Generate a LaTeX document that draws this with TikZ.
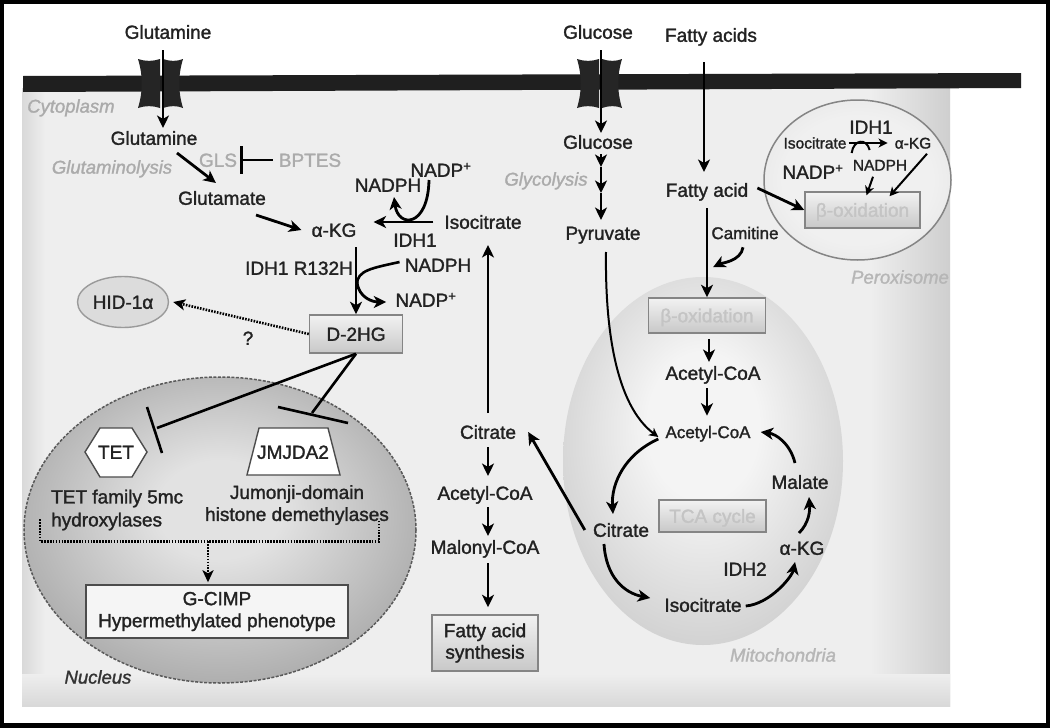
\documentclass[tikz,border=0pt]{standalone}
\usepackage{fontspec}
\setmainfont{Liberation Sans}[FakeBold=1.5]
\usetikzlibrary{arrows.meta,calc,shapes.geometric}
\definecolor{txtc}{HTML}{222222}
\definecolor{lblc}{HTML}{ABABAB}
\definecolor{lbltwo}{HTML}{B6B6B6}
\definecolor{betac}{HTML}{C4C4C4}
\definecolor{boxln}{HTML}{858585}
\definecolor{boxtop}{HTML}{F2F2F2}
\definecolor{boxbot}{HTML}{C8C8C8}
\definecolor{cellbg}{HTML}{EEEEEE}
\definecolor{chanc}{HTML}{252525}
\definecolor{hiffill}{HTML}{DCDCDC}
\definecolor{hifln}{HTML}{9A9A9A}
\definecolor{nucin}{HTML}{E2E2E2}
\definecolor{nucmid}{HTML}{A6A6A6}
\definecolor{nucout}{HTML}{6E6E6E}
\definecolor{mitin}{HTML}{F4F4F4}
\definecolor{mitmid}{HTML}{CACACA}
\definecolor{mitout}{HTML}{999999}
\definecolor{perin}{HTML}{F0F0F0}
\definecolor{perout}{HTML}{D4D4D4}
\pgfdeclareradialshading{nucsh}{\pgfpoint{0bp}{4bp}}{color(0bp)=(nucin); color(8bp)=(nucin); color(30bp)=(nucmid); color(50bp)=(nucout)}
\pgfdeclareradialshading{mitsh}{\pgfpoint{0bp}{6bp}}{color(0bp)=(mitin); color(10bp)=(mitin); color(32bp)=(mitmid); color(50bp)=(mitout)}
\pgfdeclareradialshading{persh}{\pgfpoint{0bp}{0bp}}{color(0bp)=(perin); color(20bp)=(perin); color(50bp)=(perout)}
\tikzset{
 tx/.style={font=\fontsize{19}{22}\selectfont, inner sep=0pt, text height=13.6pt, text depth=0pt, text=txtc},
 txs/.style={font=\fontsize{17}{20}\selectfont, inner sep=0pt, text height=12.2pt, text depth=0pt, text=txtc},
 txxs/.style={font=\fontsize{15.5}{18}\selectfont, inner sep=0pt, text height=11.1pt, text depth=0pt, text=txtc},
 mtx/.style={font=\fontsize{19}{22}\selectfont, inner sep=0pt, text=txtc},
 glab/.style={tx, text=lblc},
 ilab/.style={font=\fontsize{18.5}{22}\selectfont\itshape, inner sep=0pt, text height=13.2pt, text depth=0pt, text=lblc},
 arr/.style={line width=2.8pt, -{Stealth[length=12.5pt,width=12pt,inset=3.5pt]}},
 arrs/.style={line width=2pt, -{Stealth[length=9pt,width=9pt,inset=2.5pt]}},
 inh/.style={line width=2.6pt},
 gbox/.style={draw=boxln, line width=1.5pt, top color=boxtop, bottom color=boxbot, inner sep=0pt},
 dotarr/.style={line width=2.6pt, dash pattern=on 1.6pt off 1.3pt, -{Stealth[length=12pt,width=11pt,inset=3pt]}},
 dotln/.style={line width=2.6pt, dash pattern=on 1.6pt off 1.3pt},
 chan/.pic={
  \fill[chanc] (-24,-24.5) .. controls (-17,-22) and (-9,-22) .. (-2,-24.5) -- (-2,24.5) .. controls (-9,22) and (-17,22) .. (-24,24.5) .. controls (-19,8) and (-19,-8) .. cycle;
  \fill[chanc] (1,-24.5) .. controls (8,-22) and (15,-22) .. (21,-24.5) .. controls (16,-8) and (16,8) .. (21,24.5) .. controls (15,22) and (8,22) .. (1,24.5) -- cycle;
 }
}
\begin{document}
\begin{tikzpicture}[x=1pt,y=-1pt]
\useasboundingbox (0,0) rectangle (1050,728);
\fill[white] (0,0) rectangle (1050,728);
% cell background
\fill[cellbg] (22,88) rectangle (950,706);
\shade[left color=black!15, right color=cellbg] (22,88) rectangle (45,706);
\shade[left color=cellbg, right color=black!19] (870,88) rectangle (950,706);
\shade[top color=cellbg, bottom color=black!15] (22,674) rectangle (950,706);
% frame
\draw[line width=4pt] (2,2) rectangle (1048,725);
\fill (0,723) rectangle (1050,728);
% membrane
\fill[black!88] (23,76) -- (1021,73) -- (1021,88) -- (23,92) -- cycle;
\pic at (162,83.5) {chan};
\pic at (601,83.5) {chan};

% organelles
\path[shading=nucsh, draw=black!65, line width=1.5pt, dash pattern=on 3pt off 1.5pt] (220,530) ellipse [x radius=196, y radius=153];
\path[shading=mitsh] (703,461) ellipse [x radius=140, y radius=184];
\path[shading=persh, draw=boxln, line width=1.5pt] (857.5,180) ellipse [x radius=93.5, y radius=80];

% ---------- cytoplasm, glutamine branch
\node[tx] (glnout) at (168,32) {Glutamine};
\node[tx] (gln) at (154,138) {Glutamine};
\node[glab] (gls) at (218,160) {GLS};
\node[glab] (bptes) at (310,160) {BPTES};
\node[ilab] (glys) at (112,167) {Glutaminolysis};
\node[ilab, anchor=west] (cyto) at (27,106) {Cytoplasm};
\node[tx] (glu) at (222,198) {Glutamate};
\node[tx] (akg) at (334,230) {α-KG};
\node[tx] (nadpA) at (441,170) {NADP\textsuperscript{+}};
\node[tx] (nadphA) at (388,185) {NADPH};
\node[tx] (iso) at (483,222) {Isocitrate};
\node[tx] (idhA) at (415,240) {IDH1};
\node[tx] (rmut) at (299,268) {IDH1 R132H};
\node[tx] (nadphB) at (438,265) {NADPH};
\node[tx] (nadpB) at (426,300) {NADP\textsuperscript{+}};
\node[gbox, tx, minimum width=93pt, minimum height=38pt] (dhg) at (356,334) {D-2HG};
\node[tx, ellipse, draw=hifln, fill=hiffill, line width=1.4pt, minimum width=91pt, minimum height=51pt] (hif) at (123,302) {HID-1α};
\node[tx] (qm) at (248,338) {?};

\draw[arr] ($(glnout.south)+(-5,11)$) -- ($(gln.north)+(9,-3)$);
\draw[arr] ($(gln.south)+(23,8)$) -- ($(glu.north)+(-6,-8)$);
\coordinate (glsbar) at ($(gls.east)+(4,0)$);
\draw[inh] ($(bptes.west)+(-6,0)$) -- (glsbar);
\draw[inh] ($(glsbar)+(0,-14)$) -- ($(glsbar)+(0,14)$);
\draw[arr] ($(glu.south)+(34,10)$) -- ($(akg.west)+(-10,0)$);
\draw[arr] ($(iso.west)+(-11,0)$) -- ($(akg.east)+(17,-8)$);
\draw[arr] ($(nadpA.south)+(-12,3)$) .. controls ($(nadpA.south)+(-13,51)$) and ($(nadphA.south)+(10,36)$) .. ($(nadphA.south)+(6,5)$);
\draw[arr] ($(akg.south)+(22,10)$) -- (dhg.north);
\draw[line width=2.6pt] ($(nadphB.west)+(-5,-3)$) .. controls ($(nadphB.west)+(-32,3)$) and ($(dhg.north)+(1,-44)$) .. ($(dhg.north)+(1,-30)$);
\draw[arr] ($(dhg.north)+(1,-32)$) .. controls ($(dhg.north)+(3,-16)$) and ($(nadpB.west)+(-22,2)$) .. ($(nadpB.west)+(-9,2)$);
\draw[dotarr] (dhg.west) -- ($(hif.east)+(4,0)$);

% ---------- nucleus
\coordinate (tetc) at (116,452);
\coordinate (jmjc) at (293,452);
\draw[fill=white, draw=black!70, line width=1.4pt] ($(tetc)+(-31,0)$) -- ($(tetc)+(-16,-24)$) -- ($(tetc)+(16,-24)$) -- ($(tetc)+(31,0)$) -- ($(tetc)+(16,25)$) -- ($(tetc)+(-16,25)$) -- cycle;
\draw[fill=white, draw=black!70, line width=1.4pt] ($(jmjc)+(-46,23)$) -- ($(jmjc)+(47,23)$) -- ($(jmjc)+(35,-24)$) -- ($(jmjc)+(-34,-24)$) -- cycle;
\node[tx] (tet) at (tetc) {TET};
\node[tx] (jmj) at (jmjc) {JMJDA2};
\node[mtx, align=left, anchor=west, font=\fontsize{19}{23}\selectfont] (tetlbl) at (51,510) {TET family 5mc\\hydroxylases};
\node[mtx, align=center, font=\fontsize{19}{22}\selectfont] (jmjlbl) at (297,505) {Jumonji-domain\\histone demethylases};
\node[mtx, align=center, draw=black!70, fill=white!96!black, line width=1.4pt, minimum width=262pt, minimum height=53pt] (gcimp) at (217,611.5) {G-CIMP\\Hypermethylated phenotype};
\node[ilab, text=black!80] (nuclbl) at (98,677) {Nucleus};

\draw[inh] (dhg.south) -- ($(tet)+(41,-24)$);
\draw[inh] ($(tet)+(31,-45)$) -- ($(tet)+(46,1)$);
\draw[inh] (dhg.south) -- ($(jmj)+(19,-39)$);
\draw[inh] ($(jmj)+(-15,-45)$) -- ($(jmj)+(55,-29)$);
\coordinate (brk) at ($(gcimp.north)+(-9,-43)$);
\draw[dotln] ($(brk)+(-168,-22)$) -- ($(brk)+(-168,0)$) -- ($(brk)+(171,0)$) -- ($(brk)+(171,-20)$);
\draw[dotarr] (brk) -- ($(gcimp.north)+(-9,-2)$);

% ---------- fatty acid synthesis column
\node[tx] (cit) at (488,432) {Citrate};
\node[tx] (acc) at (485,493) {Acetyl-CoA};
\node[tx] (mal) at (485,547) {Malonyl-CoA};
\node[gbox, mtx, align=center, font=\fontsize{19}{21.5}\selectfont, minimum width=106pt, minimum height=56pt] (fas) at (485,643) {Fatty acid\\synthesis};
\draw[arr] ($(cit.north)+(0,-12)$) -- ($(iso.south)+(5,16)$);
\draw[arr] ($(cit.south)+(0,8)$) -- ($(acc.north)+(3,-10)$);
\draw[arr] ($(acc.south)+(3,7)$) -- ($(mal.north)+(3,-4)$);
\draw[arr] ($(mal.south)+(3,9)$) -- ($(fas.north)+(3,-7)$);

% ---------- glucose column
\node[tx] (glcout) at (598,32) {Glucose};
\node[tx] (glc) at (598,142) {Glucose};
\node[ilab] (glyco) at (546,179) {Glycolysis};
\node[tx] (pyr) at (603,233) {Pyruvate};
\draw[arr] ($(glcout.south)+(3,11)$) -- ($(glc.north)+(3,-2)$);
\coordinate (gA) at ($(glc.south)+(3,18)$);
\coordinate (gB) at ($(glc.south)+(3,44)$);
\draw[arr] ($(glc.south)+(3,5)$) -- (gA);
\draw[arr] (gA) -- (gB);
\draw[arr] (gB) -- ($(pyr.north)+(-2,-6)$);

% ---------- fatty acids column
\node[tx] (faout) at (711,35) {Fatty acids};
\node[tx] (fa) at (707,190) {Fatty acid};
\node[txs] (carn) at (745,233) {Camitine};
\draw[arr] ($(faout.south)+(-7,20)$) -- ($(fa.north)+(-3,-11)$);

% ---------- peroxisome
\node[txxs] (piso) at (815,143) {Isocitrate};
\node[tx] (pidh) at (871,127) {IDH1};
\node[txxs] (pakg) at (913,143) {α-KG};
\node[tx] (pnadp) at (813,172) {NADP\textsuperscript{+}};
\node[txxs] (pnadph) at (880,165) {NADPH};
\node[gbox, tx, text=betac, minimum width=115pt, minimum height=36pt] (pbeta) at (862.5,210) {β-oxidation};
\node[ilab, text=lbltwo] (perlbl) at (900,277) {Peroxisome};
\draw[arrs] ($(piso.east)+(2,0)$) -- ($(pakg.west)+(-7,0)$);
\draw[line width=2pt] ($(piso.east)+(5,10)$) .. controls ($(piso.east)+(7,-4)$) and ($(piso.east)+(20,-5)$) .. ($(piso.east)+(23,7)$);
\draw[arrs] ($(pnadph.south)+(-7,6)$) -- ($(pbeta.north)+(4,4)$);
\draw[arrs] ($(pakg.south)+(14,5)$) -- ($(pbeta.north)+(27,5)$);
\draw[arr] ($(fa.east)+(9,-2)$) -- (pbeta.west);

% ---------- mitochondria
\node[gbox, tx, text=betac, minimum width=117pt, minimum height=35pt] (mbeta) at (707,315.5) {β-oxidation};
\node[tx] (maca) at (713,373) {Acetyl-CoA};
\node[txs] (macb) at (708,432) {Acetyl-CoA};
\node[tx] (mcit) at (621,530) {Citrate};
\node[gbox, tx, text=betac, minimum width=107pt, minimum height=32pt] (tca) at (712.5,516) {TCA cycle};
\node[tx] (miso) at (703,605) {Isocitrate};
\node[tx] (idhB) at (745,569) {IDH2};
\node[tx] (makg) at (802,548) {α-KG};
\node[tx] (malt) at (800,482) {Malate};
\node[ilab, text=lbltwo] (mitolbl) at (783,655) {Mitochondria};

\draw[arr] ($(fa.south)+(0,11)$) -- (mbeta.north);
\draw[arr] ($(carn.south)+(-2,8)$) .. controls ($(carn.south)+(-4,22)$) and ($(mbeta.north)+(14,-34)$) .. ($(mbeta.north)+(6,-30)$);
\draw[arr] ($(mbeta.south)+(2,5)$) -- ($(maca.north)+(-4,-4)$);
\draw[arr] ($(maca.south)+(-6,8)$) -- ($(macb.north)+(-1,-10)$);
\draw[arrs] ($(pyr.south)+(3,12)$) .. controls ($(pyr.south)+(2,90)$) and ($(pyr.south)+(13,165)$) .. ($(macb.west)+(-7,5)$);
\draw[arr] ($(macb.west)+(-7,7)$) .. controls ($(macb.west)+(-40,22)$) and ($(mcit.north)+(-10,-40)$) .. ($(mcit.north)+(-8,-9)$);
\draw[arr] ($(mcit.south)+(-17,7)$) .. controls ($(mcit.south)+(-15,40)$) and ($(miso.west)+(-40,-12)$) .. ($(miso.west)+(-14,-7)$);
\draw[arr] ($(miso.east)+(4,1)$) .. controls ($(miso.east)+(28,-1)$) and ($(makg.south)+(-10,22)$) .. ($(makg.south)+(-7,7)$);
\draw[arr] ($(makg.north)+(-3,-8)$) .. controls ($(makg.north)+(7,-18)$) and ($(malt.south)+(10,22)$) .. ($(malt.south)+(9,8)$);
\draw[arr] ($(malt.north)+(-5,-12)$) .. controls ($(malt.north)+(-10,-32)$) and ($(macb.east)+(25,2)$) .. ($(macb.east)+(10,0)$);
\draw[arr] ($(mcit.west)+(-8,0)$) -- ($(cit.east)+(12,0)$);
\end{tikzpicture}
\end{document}
